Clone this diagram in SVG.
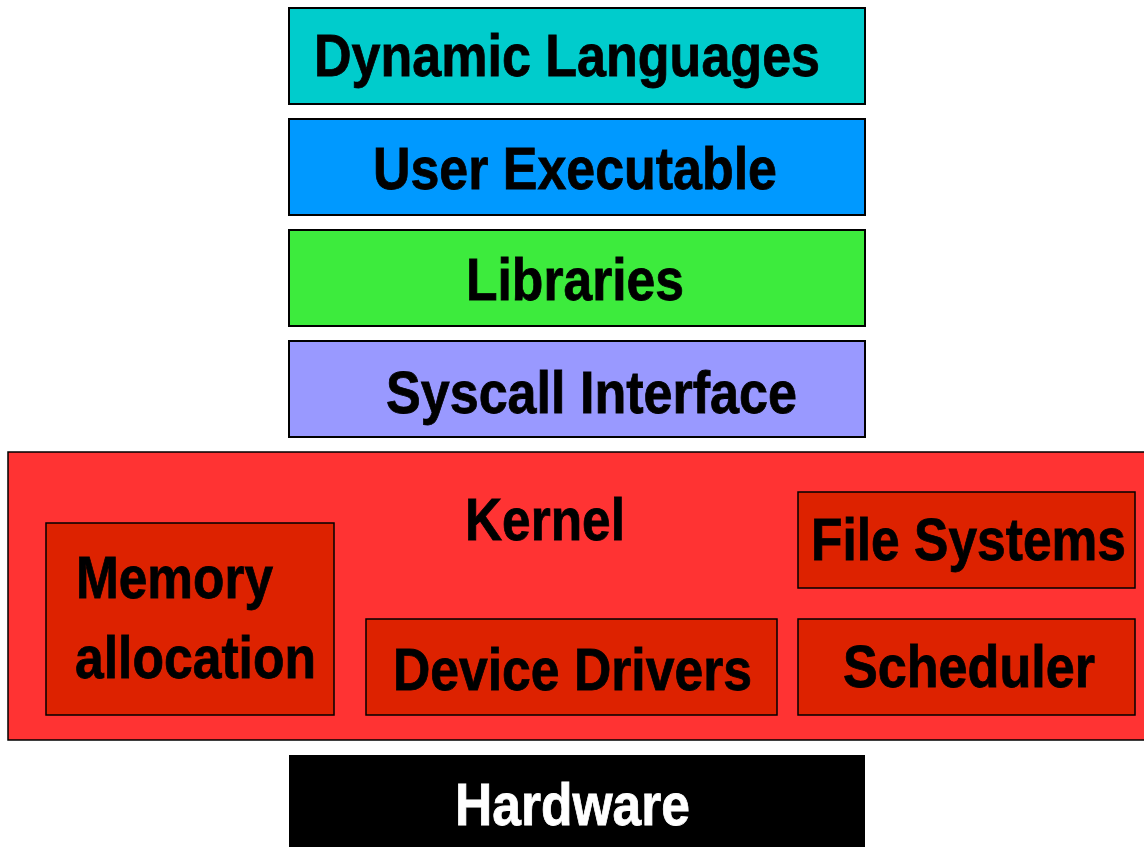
<svg xmlns="http://www.w3.org/2000/svg" width="1144" height="847" viewBox="0 0 1144 847">
  <style>
    .layer { stroke: #000; stroke-width: 2; }
    .inner { fill: #DD2200; stroke: #000; stroke-width: 1.5; }
    .lbl { font-family: "Liberation Sans", Arial, sans-serif; font-weight: bold; font-size: 59px; fill: #000; stroke: #000; stroke-width: 0.8; }
    .light { fill: #fff; stroke: #fff; }
  </style>
  <rect width="1144" height="847" fill="#fff"/>

  <g id="dynamic-languages">
    <rect class="layer" x="289" y="8" width="576" height="96" fill="#00CCCC"/>
    <text class="lbl" x="314" y="76" textLength="506" lengthAdjust="spacingAndGlyphs">Dynamic Languages</text>
  </g>

  <g id="user-executable">
    <rect class="layer" x="289" y="119" width="576" height="96" fill="#0099FF"/>
    <text class="lbl" x="373" y="189" textLength="404" lengthAdjust="spacingAndGlyphs">User Executable</text>
  </g>

  <g id="libraries">
    <rect class="layer" x="289" y="230" width="576" height="96" fill="#3DEB3D"/>
    <text class="lbl" x="466" y="300" textLength="218" lengthAdjust="spacingAndGlyphs">Libraries</text>
  </g>

  <g id="syscall-interface">
    <rect class="layer" x="289" y="341" width="576" height="96" fill="#9999FF"/>
    <text class="lbl" x="386" y="413" textLength="411" lengthAdjust="spacingAndGlyphs">Syscall Interface</text>
  </g>

  <g id="kernel">
    <rect x="8" y="452" width="1146" height="288" fill="#FF3333" stroke="#000" stroke-width="1.5"/>
    <text class="lbl" x="465" y="540" textLength="160" lengthAdjust="spacingAndGlyphs">Kernel</text>
  </g>

  <g id="memory-allocation">
    <rect class="inner" x="46" y="523" width="288" height="192"/>
    <text class="lbl" x="76" y="598" textLength="197" lengthAdjust="spacingAndGlyphs">Memory</text>
    <text class="lbl" x="75" y="678" textLength="241" lengthAdjust="spacingAndGlyphs">allocation</text>
  </g>

  <g id="device-drivers">
    <rect class="inner" x="366" y="619" width="411" height="96"/>
    <text class="lbl" x="393" y="690" textLength="359" lengthAdjust="spacingAndGlyphs">Device Drivers</text>
  </g>

  <g id="file-systems">
    <rect class="inner" x="798" y="492" width="337" height="96"/>
    <text class="lbl" x="811" y="560" textLength="315" lengthAdjust="spacingAndGlyphs">File Systems</text>
  </g>

  <g id="scheduler">
    <rect class="inner" x="798" y="619" width="337" height="96"/>
    <text class="lbl" x="843" y="687" textLength="252" lengthAdjust="spacingAndGlyphs">Scheduler</text>
  </g>

  <g id="hardware">
    <rect x="289" y="755" width="576" height="100" fill="#000"/>
    <text class="lbl light" x="455" y="825" textLength="235" lengthAdjust="spacingAndGlyphs">Hardware</text>
  </g>

  <g id="connectors"/>
</svg>
